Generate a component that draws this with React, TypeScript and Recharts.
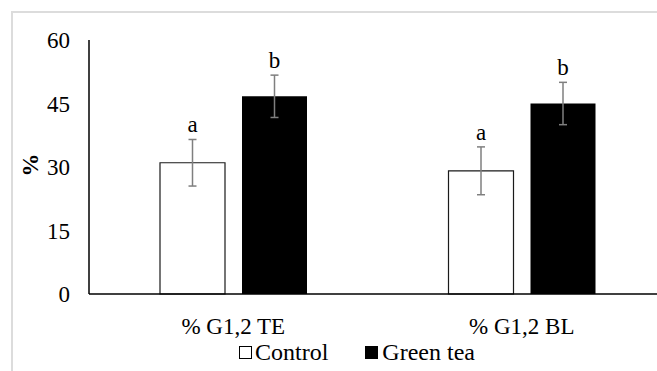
import React from 'react';
import { BarChart, Bar, XAxis, YAxis, ErrorBar, LabelList, Legend } from 'recharts';

const categories = ['% G1,2 TE', '% G1,2 BL'];
const controlValues = [31.0, 29.1];
const controlErrors = [5.5, 5.65];
const controlLetters = ['a', 'a'];
const greenTeaValues = [46.7, 45.0];
const greenTeaErrors = [5.0, 5.0];
const greenTeaLetters = ['b', 'b'];
const yTicks = [0, 15, 30, 45, 60];

const data = categories.map((c, i) => ({
  name: c,
  control: controlValues[i],
  controlErr: controlErrors[i],
  controlLetter: controlLetters[i],
  green: greenTeaValues[i],
  greenErr: greenTeaErrors[i],
  greenLetter: greenTeaLetters[i],
}));

const FONT = "'Times New Roman', 'Liberation Serif', 'DejaVu Serif', serif";

const makeLetter = (values: number[], errors: number[], letters: string[]) => (props: any) => {
  const { x, y, width, height, index } = props;
  const v = values[index];
  const e = errors[index];
  const pxPerUnit = height / v;
  const errTop = y - e * pxPerUnit;
  return (
    <text x={x + width / 2} y={errTop - 7} textAnchor="middle" style={{ fontFamily: FONT }} fontSize={23} fill="#000">
      {letters[index]}
    </text>
  );
};

const LegendContent = () => (
  <div style={{ display: 'flex', alignItems: 'center', fontFamily: FONT, fontSize: 24, color: '#000', lineHeight: '26px' }}>
    <span style={{ display: 'inline-block', width: 11, height: 11, border: '1px solid #000', background: '#fff', marginRight: 3 }} />
    <span>Control</span>
    <span style={{ display: 'inline-block', width: 13, height: 13, background: '#000', marginLeft: 37, marginRight: 4 }} />
    <span>Green tea</span>
  </div>
);

export default function App() {
  return (
    <div style={{ position: 'absolute', left: 0, top: 0, width: 657, height: 371, overflow: 'hidden', background: '#fff', fontFamily: FONT }}>
      <div style={{ position: 'absolute', left: 11, top: 11, width: 700, height: 420, border: '2px solid #dcdcdc', boxSizing: 'border-box' }} />
      <div style={{ position: 'absolute', left: 0, top: 0 }}>
        <BarChart
          width={680}
          height={371}
          data={data}
          margin={{ top: 40, right: 14, left: 29, bottom: 0 }}
          barSize={65}
          barGap={17}
          style={{ fontFamily: FONT }}
        >
          <XAxis
            dataKey="name"
            tickLine={false}
            tickSize={0}
            tickMargin={24}
            height={51}
            axisLine={{ stroke: '#000', strokeWidth: 1.5 }}
            tick={{ fontSize: 23, fill: '#000', style: { fontFamily: FONT } }}
          />
          <YAxis
            domain={[0, 60]}
            ticks={yTicks}
            width={60}
            tickLine={false}
            tickSize={0}
            tickMargin={19}
            axisLine={{ stroke: '#000', strokeWidth: 1.5 }}
            tick={{ fontSize: 23, fill: '#000', style: { fontFamily: FONT } }}
            label={{
              content: () => (
                <text x={30} y={165} transform="rotate(-90 30 165)" textAnchor="middle" dominantBaseline="central" style={{ fontFamily: FONT }} fontSize={23} fontWeight="bold" fill="#000">%</text>
              ),
            }}
          />
          <Legend
            verticalAlign="bottom"
            content={<LegendContent />}
            wrapperStyle={{ left: 239, width: 320, height: 26, bottom: 6 }}
          />
          <Bar dataKey="control" name="Control" fill="#fff" stroke="#1a1a1a" strokeWidth={1.2} isAnimationActive={false}>
            <ErrorBar dataKey="controlErr" width={4} stroke="#7f7f7f" strokeWidth={1.5} isAnimationActive={false} />
            <LabelList dataKey="control" content={makeLetter(controlValues, controlErrors, controlLetters)} />
          </Bar>
          <Bar dataKey="green" name="Green tea" fill="#000" isAnimationActive={false}>
            <ErrorBar dataKey="greenErr" width={4} stroke="#7f7f7f" strokeWidth={1.5} isAnimationActive={false} />
            <LabelList dataKey="green" content={makeLetter(greenTeaValues, greenTeaErrors, greenTeaLetters)} />
          </Bar>
        </BarChart>
      </div>
    </div>
  );
}
